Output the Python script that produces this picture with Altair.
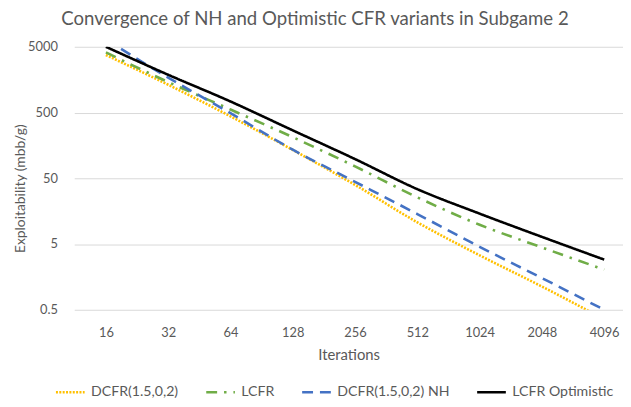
import altair as alt
import pandas as pd

iterations = [16, 32, 64, 128, 256, 512, 1024, 2048, 4096]
series_names = ["DCFR(1.5,0,2)", "LCFR", "DCFR(1.5,0,2) NH", "LCFR Optimistic"]
dcfr = [3750, 1324, 438, 135, 39.7, 10.7, 3.37, 1.13, 0.36]
lcfr = [4100, 1454, 556, 211, 75.8, 25.7, 9.83, 4.44, 2.04]
dcfr_nh = [6460, 1698, 489, 136, 44.2, 14.3, 4.54, 1.52, 0.5]
lcfr_opt = [5000, 1877, 737, 268, 98, 34.2, 14.5, 6.43, 2.9]

colors = ["#FFC000", "#70AD47", "#4472C4", "#000000"]
dashes = [[2, 1.4], [11, 7, 2.5, 7], [11, 7], [1, 0]]

rows = []
for name, vals in zip(series_names, [dcfr, lcfr, dcfr_nh, lcfr_opt]):
    for it, v in zip(iterations, vals):
        rows.append({"Iterations": it, "value": v, "series": name})
df = pd.DataFrame(rows)

FONT = "Lato"
GRAY = "#595959"

chart = alt.Chart(df).mark_line(clip=True, strokeWidth=2.6, interpolate="monotone").encode(
    x=alt.X("Iterations:Q",
            scale=alt.Scale(type="log", base=2, domain=[11.25, 5050], nice=False),
            axis=alt.Axis(values=iterations, format="d", grid=False, ticks=False,
                          domain=False, labelPadding=17, labelFontSize=13,
                          labelColor=GRAY, title="Iterations", titleFontSize=15,
                          titleColor=GRAY, titleFontWeight="normal", titlePadding=8,
                          labelFont=FONT, titleFont=FONT)),
    y=alt.Y("value:Q",
            scale=alt.Scale(type="log", domain=[0.5, 5000], nice=False),
            axis=alt.Axis(values=[0.5, 5, 50, 500, 5000], format="~g", grid=True,
                          gridColor="#d9d9d9", ticks=False, domain=False,
                          labelPadding=17, labelFontSize=13, labelColor=GRAY,
                          title="Exploitability (mbb/g)", titleFontSize=14,
                          titleColor=GRAY, titleFontWeight="normal", titlePadding=0,
                          titleY=143,
                          labelFont=FONT, titleFont=FONT)),
    color=alt.Color("series:N", sort=series_names,
                    scale=alt.Scale(domain=series_names, range=colors),
                    legend=alt.Legend(title=None, orient="none", direction="horizontal",
                                      legendX=-20, legendY=333, symbolType="stroke",
                                      symbolSize=841, symbolStrokeWidth=2.6,
                                      labelFontSize=14.3, labelColor=GRAY, labelFont=FONT,
                                      columnPadding=22, labelOffset=5)),
    strokeDash=alt.StrokeDash("series:N", sort=series_names,
                              scale=alt.Scale(domain=series_names, range=dashes),
                              legend=None),
).properties(
    width=555, height=266,
    title=alt.Title("Convergence of NH and Optimistic CFR variants in Subgame 2",
                    fontSize=18.8, font=FONT, color=GRAY, fontWeight="normal",
                    anchor="middle", dx=-34, offset=12),
    autosize=alt.AutoSizeParams(type="none"),
    padding={"left": 67, "top": 37, "right": 0, "bottom": 90},
).configure_view(stroke=None)

chart.save("out.html", embed_options={"renderer": "svg", "actions": False})
